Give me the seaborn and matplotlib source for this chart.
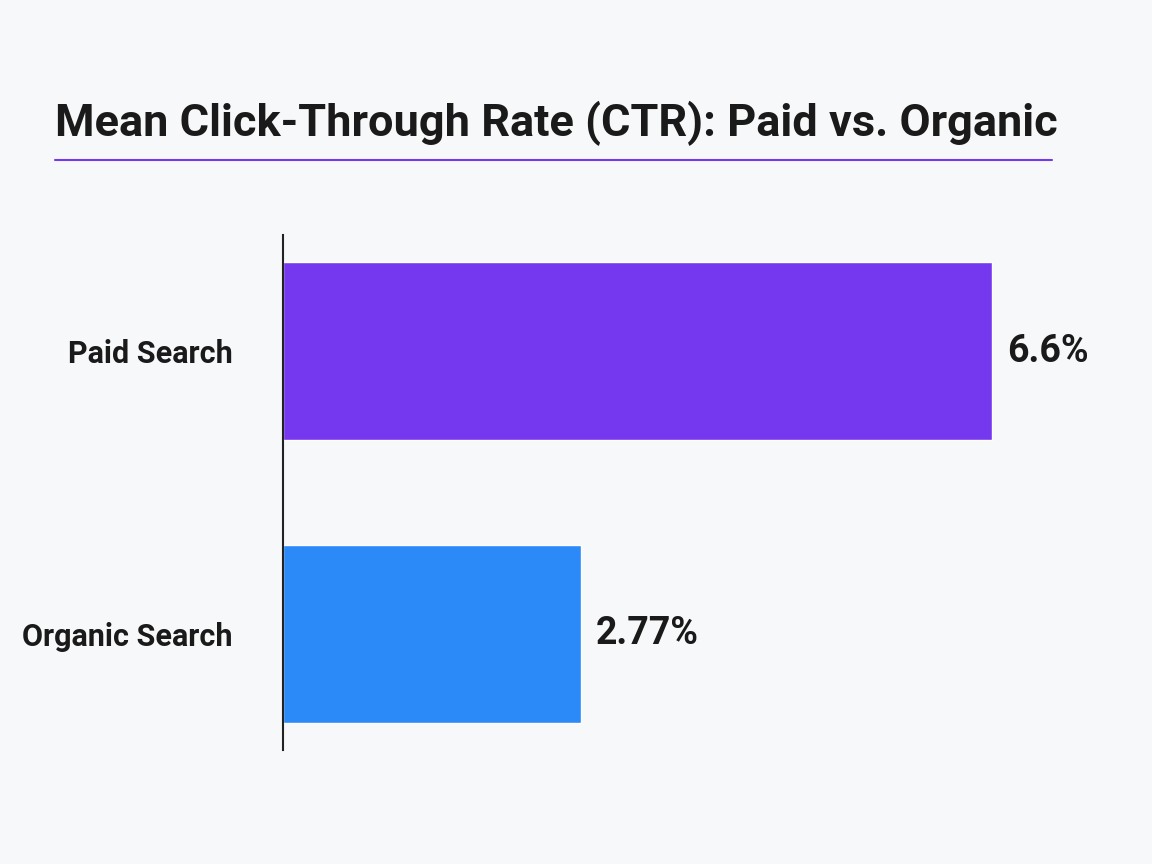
import matplotlib
matplotlib.use("Agg")
import matplotlib.pyplot as plt
from matplotlib.lines import Line2D
import seaborn as sns
import pandas as pd

channels = ["Paid Search", "Organic Search"]
ctr = [6.6, 2.77]
value_labels = ["6.6%", "2.77%"]
bar_colors = ["#7638EE", "#2B8AF7"]

sns.set_style("white")
plt.rcParams["font.family"] = ["Roboto", "DejaVu Sans"]

bg = "#F7F8FA"
fig = plt.figure(figsize=(11.52, 8.64), dpi=100, facecolor=bg)
ax = fig.add_axes([283 / 1152, 1 - 750 / 864, 806 / 1152, 515 / 864])
ax.set_facecolor(bg)

df = pd.DataFrame({"channel": channels, "ctr": ctr})
sns.barplot(data=df, x="ctr", y="channel", hue="channel", palette=bar_colors,
            orient="h", width=0.63, legend=False, ax=ax, saturation=1)

ax.set_xlim(0, 7.5)
ax.set_ylim(1.41, -0.41)
ax.set_xlabel("")
ax.set_ylabel("")
ax.set_xticks([])
for side in ["top", "right", "bottom"]:
    ax.spines[side].set_visible(False)
ax.spines["left"].set_color("#222222")
ax.spines["left"].set_linewidth(1.5)
ax.tick_params(axis="y", length=0, pad=36, labelsize=22, labelcolor="#1a1a1a")
for lbl in ax.get_yticklabels():
    lbl.set_fontweight("bold")

for cont, txt in zip(ax.containers, value_labels):
    ax.bar_label(cont, labels=[txt], padding=11, fontsize=27,
                 fontweight="bold", color="#1a1a1a")

# title and underline
fig.text(55 / 1152, 1 - 136 / 864, "Mean Click-Through Rate (CTR): Paid vs. Organic",
         fontsize=32.5, fontweight="bold", color="#1a1a1a", va="baseline", ha="left")
fig.add_artist(Line2D([55 / 1152, 1052 / 1152], [1 - 160 / 864, 1 - 160 / 864],
                      color="#7638EE", lw=1.5, transform=fig.transFigure))

plt.savefig("out.png", dpi=100, facecolor=bg)
